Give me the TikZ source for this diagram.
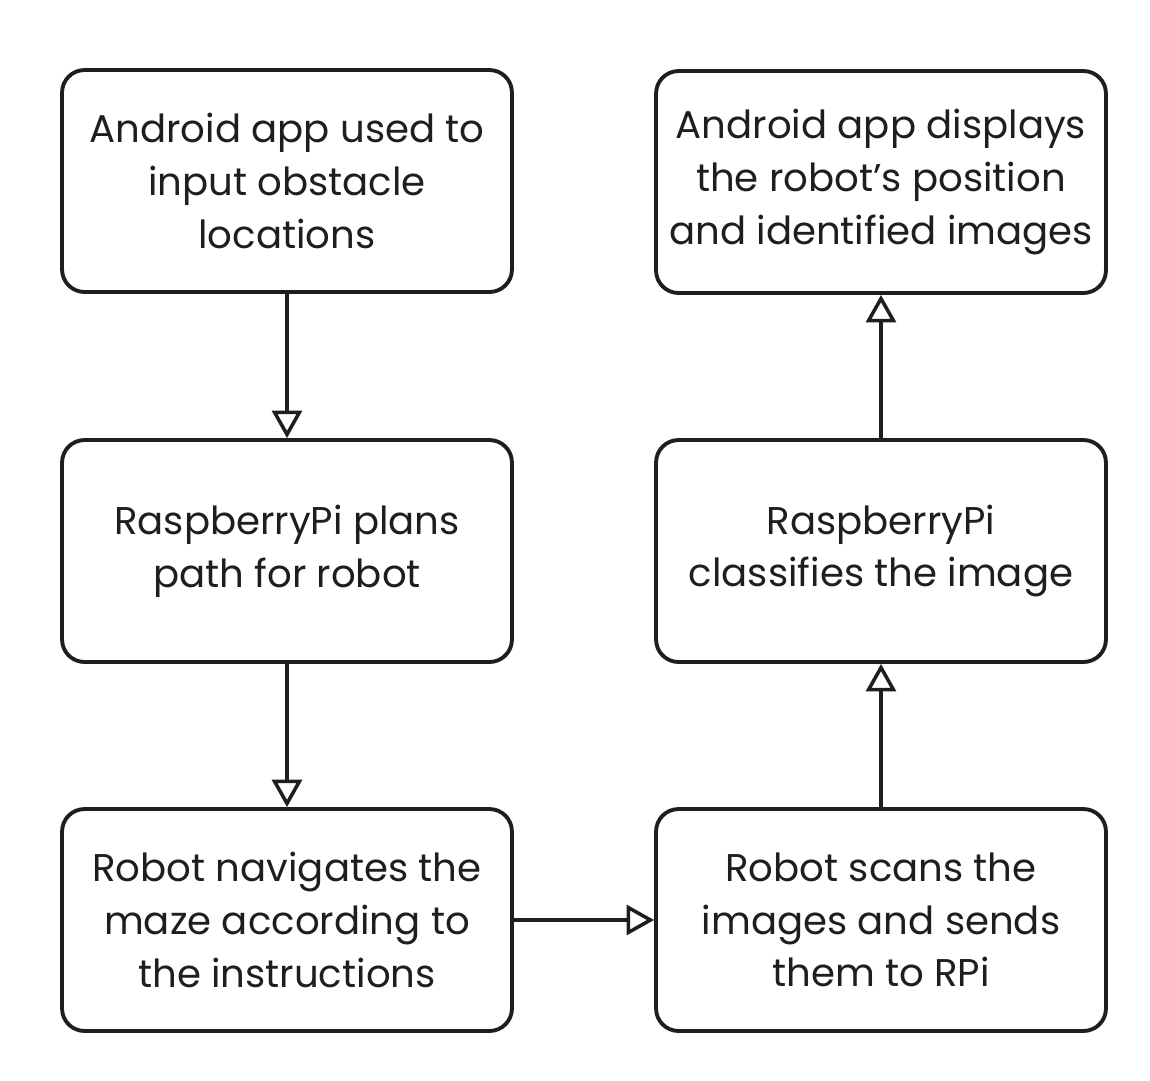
\documentclass[tikz,border=0pt]{standalone}
\usepackage{fontspec}
\setmainfont{Poppins}
\usetikzlibrary{arrows.meta}

\definecolor{ink}{HTML}{1E1E1E}
\tikzset{
  stepbox/.style={draw=ink, line width=2.2pt, rounded corners=0.45cm,
    minimum width=9cm, minimum height=4.44cm, align=center, text=ink,
    font=\fontsize{22}{30}\selectfont},
  flow/.style={draw=ink, -{Triangle[open, width=6mm, length=5.5mm, line width=2pt]}, line width=2.4pt}
}

\begin{document}
\begin{tikzpicture}[x=0.02cm, y=-0.02cm]
\useasboundingbox (0,0) rectangle (1150,1080);
\begin{scope}
  \node[stepbox] (input) at (287,181) {Android app used to\\input obstacle\\locations};
  \node[stepbox] (display) at (881,182) {Android app displays\\the robot’s position\\and identified images};
  \node[stepbox] (plan) at (287,551) {RaspberryPi plans\\path for robot};
  \node[stepbox] (classify) at (881,551) {RaspberryPi\\classifies the image};
  \node[stepbox] (navigate) at (287,920) {Robot navigates the\\maze according to\\the instructions};
  \node[stepbox] (scan) at (881,920) {Robot scans the\\images and sends\\them to RPi};
  \draw[flow] (input) -- (plan);
  \draw[flow] (plan) -- (navigate);
  \draw[flow] (navigate) -- (scan);
  \draw[flow] (scan) -- (classify);
  \draw[flow] (classify) -- (display);
\end{scope}
\end{tikzpicture}
\end{document}
